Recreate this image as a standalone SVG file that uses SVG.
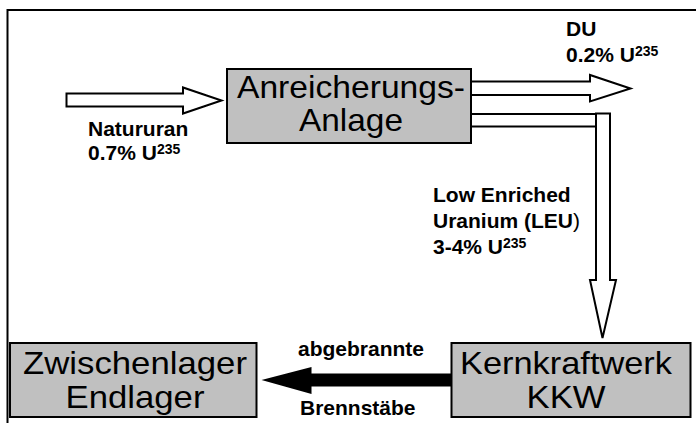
<svg xmlns="http://www.w3.org/2000/svg" width="696" height="423" viewBox="0 0 696 423">
<style>
.box{fill:#c0c0c0;stroke:#000;stroke-width:2}
.big{font-family:"Liberation Sans",Arial,sans-serif;font-size:32px;fill:#000}
.lab{font-family:"Liberation Sans",Arial,sans-serif;font-size:21px;font-weight:bold;fill:#000}
.sup{font-size:14px}
.wa{fill:#fff;stroke:#000;stroke-width:2;stroke-linejoin:miter}
.ba{fill:#000;stroke:none}
</style>
<rect x="0" y="0" width="696" height="423" fill="#fff"/>
<rect x="7.5" y="10" width="700" height="430" fill="none" stroke="#000" stroke-width="2"/>
<g id="connectors">
<polygon id="c-natururan" class="wa" points="66.5,93.5 183,93.5 183,87.5 221.5,100.5 183,113.5 183,106.5 66.5,106.5"/>
<polygon id="c-du" class="wa" points="471,81.5 590,81.5 590,75 630.5,88.5 590,101.5 590,95 471,95"/>
<rect id="c-leu-h" class="wa" x="471" y="114" width="126" height="12.5"/>
<polygon id="c-leu-v" class="wa" points="596,113.5 610,113.5 610,280 616,280 602.5,338 590,280 596,280"/>
<polygon id="c-brenn" class="ba" points="452,373.5 311.5,373.5 311.5,367 261.5,380 311.5,394 311.5,386.5 452,386.5"/>
</g>
<g id="n-anreicherung">
<rect class="box" x="227" y="69" width="244" height="74"/>
<text class="big" x="237" y="98" textLength="228" lengthAdjust="spacingAndGlyphs">Anreicherungs-</text>
<text class="big" x="299" y="131" textLength="104" lengthAdjust="spacingAndGlyphs">Anlage</text>
</g>
<g id="n-zwischenlager">
<rect class="box" x="10" y="343" width="246.5" height="74"/>
<text class="big" x="135" y="374" text-anchor="middle" textLength="224" lengthAdjust="spacingAndGlyphs">Zwischenlager</text>
<text class="big" x="135" y="408" text-anchor="middle" textLength="139" lengthAdjust="spacingAndGlyphs">Endlager</text>
</g>
<g id="n-kkw">
<rect class="box" x="451.5" y="343" width="239" height="74"/>
<text class="big" x="566" y="374" text-anchor="middle" textLength="212" lengthAdjust="spacingAndGlyphs">Kernkraftwerk</text>
<text class="big" x="566" y="408" text-anchor="middle" textLength="79" lengthAdjust="spacingAndGlyphs">KKW</text>
</g>
<g id="labels">
<text class="lab" x="88" y="136">Natururan</text>
<text class="lab" x="88" y="160">0.7% U<tspan class="sup" dy="-6">235</tspan></text>
<text class="lab" x="566" y="36">DU</text>
<text class="lab" x="566" y="61.5">0.2% U<tspan class="sup" dy="-6">235</tspan></text>
<text class="lab" x="433" y="202">Low Enriched</text>
<text class="lab" x="433" y="228">Uranium (LEU<tspan font-weight="normal">)</tspan></text>
<text class="lab" x="433" y="254">3-4% U<tspan class="sup" dy="-6">235</tspan></text>
<text class="lab" x="298" y="356">abgebrannte</text>
<text class="lab" x="300" y="415">Brennstäbe</text>
</g>
</svg>
